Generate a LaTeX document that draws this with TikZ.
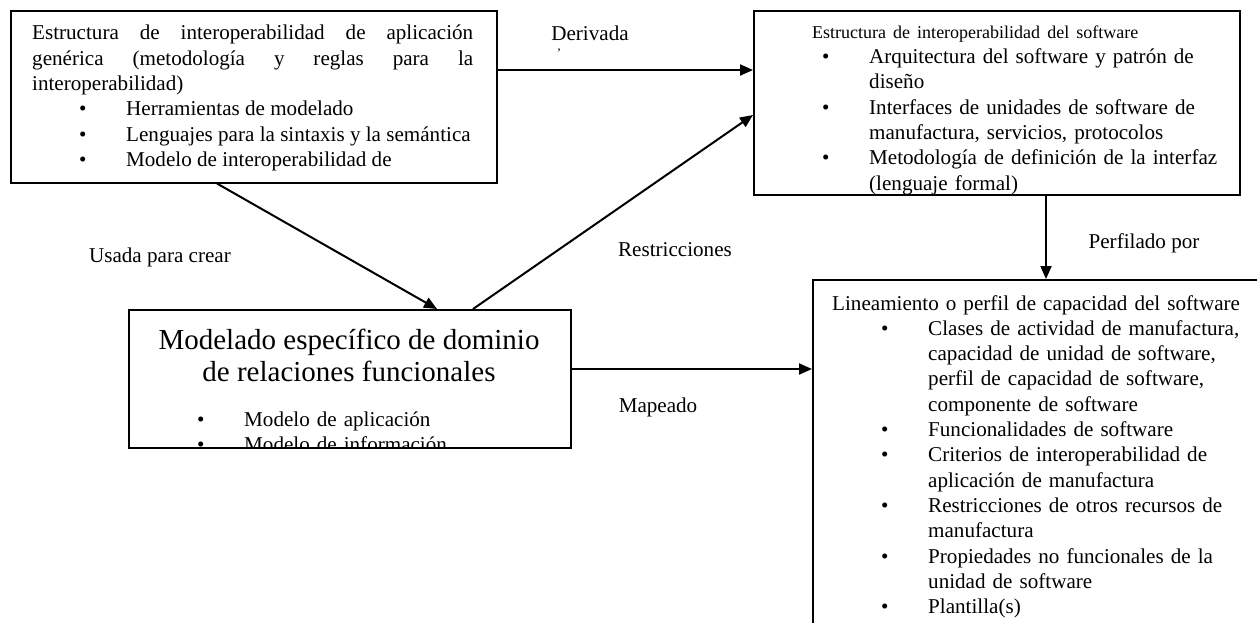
\documentclass[tikz,border=0pt]{standalone}
\usepackage{fontspec}
\setmainfont{Liberation Serif}
\usetikzlibrary{arrows.meta,positioning,calc}

\newcommand{\txtfont}{\fontsize{21.1}{25.3}\selectfont}
\newcommand{\bulitem}[1]{\par\noindent\hangindent=94pt\hangafter=1\hspace*{47pt}\makebox[47pt][l]{\textbullet}#1}

\tikzset{
  box/.style={draw, line width=1.5pt, rectangle, inner sep=0pt, anchor=north west},
  boxtext/.style={anchor=north west, inner sep=0pt, text width=#1, align=left, font=\txtfont},
  conn/.style={line width=2pt, -{Triangle[length=13pt,width=11pt]}},
  lbl/.style={inner sep=0pt, font=\txtfont}
}

\begin{document}
\begin{tikzpicture}[x=1pt, y=-1pt]
  \useasboundingbox (0,0) rectangle (1257,622);
  \clip (0,0) rectangle (1257,622);

  % Boxes
  \node[box, minimum width=486pt, minimum height=172pt] (gen) at (10,10) {};
  \node[box, minimum width=486pt, minimum height=184pt] (sw) at (753,10) {};
  \node[box, minimum width=442pt, minimum height=138pt] (dom) at (128,309) {};
  \node[box, minimum width=470pt, minimum height=360pt] (lin) at (812,279) {};

  % Box texts (clipped to their boxes)
  \begin{scope}
    \clip (gen.north west) rectangle (gen.south east);
    \node[boxtext=441pt, align=justify] (gentxt) at (32,25) {%
      Estructura de interoperabilidad de aplicación\linebreak
      genérica (metodología y reglas para la\linebreak
      interoperabilidad)
      \bulitem{Herramientas de modelado}
      \bulitem{Lenguajes para la sintaxis y la semántica}
      \bulitem{Modelo de interoperabilidad de}\par};
  \end{scope}
  \begin{scope}
    \clip (sw.north west) rectangle (sw.south east);
    \node[boxtext=480pt] (swtxt) at (775,25.5) {%
      {\fontsize{18}{25.3}\selectfont\hspace*{37pt}Estructura de interoperabilidad del software\par}
      \bulitem{Arquitectura del software y patrón de\newline diseño}
      \bulitem{Interfaces de unidades de software de\newline manufactura, servicios, protocolos}
      \bulitem{Metodología de definición de la interfaz\newline (lenguaje formal)}\par};
  \end{scope}
  \node[inner sep=0pt, anchor=north, align=center, font=\fontsize{29}{32}\selectfont]
    (domtitle) at (349,329) {Modelado específico de dominio\\de relaciones funcionales};
  \begin{scope}
    \clip (dom.north west) rectangle (dom.south east);
    \node[boxtext=420pt] (domtxt) at (150,401) {%
      \bulitem{Modelo de aplicación}
      \bulitem{Modelo de información}\par};
  \end{scope}
  \begin{scope}
    \clip (lin.north west) rectangle (lin.south east);
    \node[boxtext=460pt] (lintxt) at (834,295) {%
      \hspace*{-2pt}Lineamiento o perfil de capacidad del software
      \bulitem{Clases de actividad de manufactura,\newline capacidad de unidad de software,\newline perfil de capacidad de software,\newline componente de software}
      \bulitem{Funcionalidades de software}
      \bulitem{Criterios de interoperabilidad de\newline aplicación de manufactura}
      \bulitem{Restricciones de otros recursos de\newline manufactura}
      \bulitem{Propiedades no funcionales de la\newline unidad de software}
      \bulitem{Plantilla(s)}\par};
  \end{scope}

  % Arrows
  \draw[conn] ([yshift=-60pt]gen.north east) -- ([yshift=-60pt]sw.north west);
  \draw[conn] ([xshift=207pt]gen.south west) -- ([xshift=309pt]dom.north west);
  \draw[conn] ([xshift=345pt]dom.north west) -- ([yshift=-105pt]sw.north west);
  \draw[conn] ([xshift=293pt]sw.south west) -- ([xshift=234pt]lin.north west);
  \draw[conn] ([yshift=-60pt]dom.north east) -- ([yshift=-90pt]lin.north west);

  % Arrow labels
  \node[lbl] (derlbl) at (590,33) {Derivada};
  \node[lbl, font=\fontsize{13}{13}\selectfont] (dertick) at (559,53) {'};
  \node[lbl] (usalbl) at (160,257) {Usada para crear};
  \node[lbl] (reslbl) at (675,250) {Restricciones};
  \node[lbl] (perlbl) at (1144,243) {Perfilado por};
  \node[lbl] (maplbl) at (658,407) {Mapeado};
\end{tikzpicture}
\end{document}
